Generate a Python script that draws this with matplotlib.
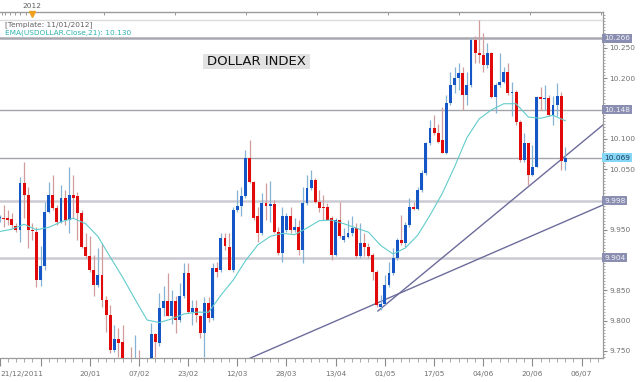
import numpy as np
import matplotlib
matplotlib.use("Agg")
import matplotlib.pyplot as plt
from matplotlib.ticker import FixedLocator, FixedFormatter, MultipleLocator
from matplotlib.transforms import blended_transform_factory
from matplotlib.patches import Rectangle

# ---------------- data ----------------
opens = [
    9.969, 9.970, 9.970, 9.968, 9.956, 9.950, 10.027, 10.007, 9.950, 9.947,
    9.867, 9.890, 9.980, 10.007, 9.986, 9.963, 10.002, 9.966, 10.007, 10.005,
    9.978, 9.922, 9.906, 9.884, 9.859, 9.875, 9.834, 9.809, 9.752, 9.770,
    9.765, 9.730, 9.733, 9.720, 9.735, 9.722, 9.715, 9.730, 9.778, 9.763,
    9.821, 9.833, 9.808, 9.833, 9.801, 9.841, 9.879, 9.815, 9.821, 9.807,
    9.780, 9.829, 9.805, 9.887, 9.884, 9.937, 9.922, 9.884, 9.983, 9.989,
    10.005, 10.068, 10.029, 9.972, 9.945, 9.994, 9.989, 9.993, 9.947, 9.912,
    9.950, 9.972, 9.950, 9.955, 9.917, 9.994, 10.019, 10.032, 9.996, 9.988,
    9.988, 9.970, 9.908, 9.966, 9.933, 9.938, 9.945, 9.953, 9.906, 9.928,
    9.922, 9.908, 9.881, 9.823, 9.828, 9.859, 9.879, 9.904, 9.933, 9.928,
    9.958, 9.988, 9.984, 10.016, 10.044, 10.093, 10.118, 10.110, 10.098, 10.077,
    10.159, 10.189, 10.201, 10.209, 10.172, 10.189, 10.263, 10.242, 10.238, 10.222,
    10.241, 10.169, 10.189, 10.194, 10.211, 10.175, 10.178, 10.128, 10.065, 10.093,
    10.040, 10.054, 10.169, 10.165, 10.167, 10.139, 10.156, 10.171, 10.062,
]
highs = [
    9.974, 9.991, 9.983, 9.978, 9.962, 10.037, 10.062, 10.021, 9.961, 9.955,
    9.923, 9.996, 10.029, 10.040, 9.991, 10.024, 10.016, 10.054, 10.040, 10.013,
    9.983, 9.945, 9.939, 9.908, 9.920, 9.928, 9.840, 9.826, 9.793, 9.788,
    9.793, 9.736, 9.757, 9.776, 9.752, 9.737, 9.734, 9.796, 9.780, 9.845,
    9.857, 9.878, 9.850, 9.840, 9.862, 9.895, 9.895, 9.834, 9.834, 9.809,
    9.839, 9.839, 9.895, 9.897, 9.945, 9.945, 9.945, 9.988, 10.016, 10.021,
    10.081, 10.098, 10.031, 9.988, 10.011, 10.027, 10.031, 9.999, 9.955, 9.988,
    9.978, 9.988, 9.970, 9.966, 10.021, 10.040, 10.049, 10.035, 10.016, 10.007,
    9.994, 9.972, 9.970, 9.996, 9.953, 9.966, 9.972, 9.961, 9.961, 9.945,
    9.928, 9.912, 9.884, 9.842, 9.875, 9.897, 9.920, 9.937, 9.974, 9.963,
    10.002, 9.996, 10.021, 10.049, 10.095, 10.131, 10.139, 10.125, 10.153, 10.172,
    10.211, 10.219, 10.225, 10.219, 10.211, 10.266, 10.269, 10.296, 10.275, 10.258,
    10.244, 10.192, 10.241, 10.219, 10.225, 10.194, 10.181, 10.131, 10.110, 10.093,
    10.090, 10.170, 10.186, 10.189, 10.172, 10.170, 10.193, 10.178, 10.087,
]
lows = [
    9.963, 9.955, 9.958, 9.953, 9.946, 9.930, 9.970, 9.920, 9.933, 9.856,
    9.857, 9.884, 9.978, 9.983, 9.958, 9.961, 9.958, 9.945, 9.970, 9.933,
    9.920, 9.904, 9.881, 9.840, 9.856, 9.823, 9.782, 9.747, 9.749, 9.740,
    9.725, 9.715, 9.712, 9.712, 9.715, 9.708, 9.705, 9.722, 9.740, 9.758,
    9.807, 9.807, 9.795, 9.780, 9.798, 9.838, 9.813, 9.793, 9.798, 9.772,
    9.740, 9.798, 9.801, 9.872, 9.880, 9.917, 9.884, 9.881, 9.980, 9.972,
    10.002, 10.027, 9.966, 9.930, 9.941, 9.966, 9.963, 9.945, 9.908, 9.897,
    9.947, 9.945, 9.947, 9.908, 9.895, 9.991, 10.016, 9.994, 9.980, 9.966,
    9.966, 9.900, 9.906, 9.937, 9.930, 9.937, 9.939, 9.904, 9.904, 9.906,
    9.904, 9.867, 9.823, 9.818, 9.826, 9.856, 9.875, 9.900, 9.925, 9.922,
    9.955, 9.983, 9.983, 10.013, 10.040, 10.090, 10.106, 10.093, 10.077, 10.075,
    10.156, 10.175, 10.181, 10.148, 10.156, 10.186, 10.225, 10.225, 10.211, 10.217,
    10.167, 10.143, 10.186, 10.192, 10.172, 10.137, 10.123, 10.062, 10.062, 10.024,
    10.038, 10.054, 10.148, 10.148, 10.137, 10.123, 10.137, 10.049, 10.049,
]
closes = [
    9.970, 9.968, 9.966, 9.958, 9.950, 10.027, 10.007, 9.950, 9.948, 9.867,
    9.890, 9.980, 10.007, 9.986, 9.963, 10.002, 9.966, 10.007, 10.002, 9.978,
    9.922, 9.906, 9.884, 9.859, 9.875, 9.834, 9.809, 9.752, 9.770, 9.763,
    9.730, 9.722, 9.720, 9.735, 9.722, 9.715, 9.728, 9.778, 9.765, 9.821,
    9.833, 9.808, 9.833, 9.801, 9.841, 9.879, 9.815, 9.821, 9.809, 9.780,
    9.829, 9.805, 9.887, 9.880, 9.937, 9.923, 9.884, 9.983, 9.989, 10.005,
    10.068, 10.029, 9.970, 9.945, 9.994, 9.989, 9.993, 9.947, 9.912, 9.972,
    9.972, 9.950, 9.955, 9.917, 9.994, 10.019, 10.032, 9.996, 9.986, 9.986,
    9.966, 9.908, 9.966, 9.939, 9.939, 9.945, 9.953, 9.906, 9.928, 9.922,
    9.906, 9.881, 9.826, 9.828, 9.859, 9.879, 9.904, 9.933, 9.928, 9.958,
    9.988, 9.984, 10.016, 10.044, 10.093, 10.118, 10.110, 10.095, 10.077, 10.159,
    10.189, 10.201, 10.209, 10.172, 10.189, 10.263, 10.241, 10.238, 10.222, 10.241,
    10.169, 10.189, 10.194, 10.211, 10.175, 10.178, 10.128, 10.065, 10.093, 10.040,
    10.054, 10.169, 10.165, 10.167, 10.139, 10.156, 10.171, 10.064, 10.069,
]

ema_idx = list(range(0, 139, 3))
ema_vals = [
    9.947, 9.951, 9.959, 9.950, 9.954, 9.963, 9.969, 9.960, 9.939, 9.905,
    9.872, 9.836, 9.801, 9.797, 9.803, 9.811, 9.814, 9.814, 9.842, 9.867,
    9.899, 9.925, 9.939, 9.944, 9.942, 9.953, 9.965, 9.966, 9.960, 9.953,
    9.946, 9.924, 9.910, 9.920, 9.941, 9.974, 10.010, 10.054, 10.102, 10.133,
    10.148, 10.158, 10.158, 10.136, 10.134, 10.139, 10.130,
]

xtick_pos = [0.2, 10, 22, 34, 46, 58, 70, 82, 94, 106, 118, 130, 142]
xtick_labels = ["21/12/2011", "", "20/01", "07/02", "23/02", "12/03", "28/03",
                "13/04", "01/05", "17/05", "04/06", "20/06", "06/07"]

ytick_pos = [9.75, 9.80, 9.85, 9.90, 9.95, 10.00, 10.05, 10.10, 10.15, 10.20, 10.25]
ytick_labels = ["9.750", "9.800", "9.850", "", "9.950", "", "10.050", "10.100", "",
                "10.200", "10.250"]

level_vals = [10.266, 10.148, 10.069, 9.998, 9.904]
level_labels = ["10.266", "10.148", "10.069", "9.998", "9.904"]

trend1_x = [92.3, 147.2]
trend1_y = [9.816, 10.123]
trend2_x = [61.1, 147.2]
trend2_y = [9.738, 9.991]

# ---------------- figure ----------------
W, H = 640, 382
fig = plt.figure(figsize=(W / 100, H / 100), dpi=100)
fig.patch.set_facecolor("white")
ax = fig.add_axes([0, 24 / H, 603 / W, 346 / H])
ax.set_xlim(0.12, 147.2)
ax.set_ylim(9.7384, 10.3094)

FS = 5.3
GRAY_TXT = "#707070"

# horizontal levels
lvl_style = {10.266: ("#a8a8b0", 1.8), 10.148: ("#a4a4ac", 1.0), 10.069: ("#a4a4ac", 1.0),
             9.998: ("#cacad2", 1.8), 9.904: ("#cacad2", 1.8)}
for v in level_vals:
    col, lw = lvl_style[v]
    ax.axhline(v, color=col, lw=lw, zorder=1)
ax.axhline(10.297, color="#dcdce0", lw=1.0, zorder=1)

# trend lines
ax.plot(trend1_x, trend1_y, color="#6c6c9c", lw=1.0, zorder=2)
ax.plot(trend2_x, trend2_y, color="#6c6c9c", lw=1.0, zorder=2)

# candles
o = np.array(opens); h = np.array(highs); l = np.array(lows); c = np.array(closes)
x = np.arange(len(o))
up = c >= o
body_col = np.where(up, "#1556c6", "#e00a0a")
wick_col = np.where(up, "#86b2d4", "#d29c9c")
ax.vlines(x, l, h, colors=wick_col, lw=0.9, zorder=3)
bottoms = np.minimum(o, c)
heights = np.maximum(np.abs(c - o), 0.0016)
ax.bar(x, heights, width=0.72, bottom=bottoms, color=body_col, linewidth=0, zorder=4)

# EMA
ax.plot(ema_idx, ema_vals, color="#62cccc", lw=0.8, zorder=5)

# spines
ax.spines["left"].set_visible(False)
for s in ["right", "bottom", "top"]:
    ax.spines[s].set_color("#9a9a9a")
    ax.spines[s].set_linewidth(0.9)

# y axis on the right
ax.yaxis.tick_right()
ax.yaxis.set_major_locator(FixedLocator(ytick_pos))
ax.yaxis.set_major_formatter(FixedFormatter(ytick_labels))
ax.yaxis.set_minor_locator(MultipleLocator(0.005))
ax.tick_params(axis="y", which="major", direction="out", length=3, width=0.8,
               color="#8a8a8a", labelsize=FS, labelcolor=GRAY_TXT, pad=1.5)
ax.tick_params(axis="y", which="minor", direction="out", length=1.6, width=0.6, color="#9a9a9a")

# x axis
ax.xaxis.set_major_locator(FixedLocator(xtick_pos))
ax.xaxis.set_major_formatter(FixedFormatter(xtick_labels))
ax.xaxis.set_minor_locator(MultipleLocator(2))
ax.tick_params(axis="x", which="major", direction="out", length=6, width=0.8,
               color="#8a8a8a", labelsize=FS, labelcolor=GRAY_TXT, pad=3.5)
ax.tick_params(axis="x", which="minor", direction="out", length=3, width=0.6, color="#9a9a9a")
ax.get_xticklabels()[0].set_horizontalalignment("left")

# top overview ruler
sec = ax.secondary_xaxis("top")
sec.set_xticks([0.6, 1.3, 2.6, 3.8, 5.0, 6.5, 25.5, 42.8, 60.1, 77.4, 94.8, 112.1, 129.4, 146.7])
sec.tick_params(direction="in", length=2.5, width=0.7, color="#9a9a9a", labeltop=False)
sec.spines["top"].set_color("#8a8a8a")
fig.text(22 / W, 1 - 6 / H, "2012", fontsize=FS, color="#606060", ha="left", va="center")
fig.lines.append(plt.Line2D([32 / W], [1 - 14 / H], marker="v", markersize=4.5,
                            color="#f0a020", transform=fig.transFigure))

# price labels for levels
tr = blended_transform_factory(ax.transAxes, ax.transData)
for v, lab in zip(level_vals, level_labels):
    if lab == "10.069":
        fc, tc = "#86d6f6", "#1c3c5c"
    else:
        fc, tc = "#8a8eb0", "#f2f2f6"
    ax.text(1.0017, v, lab, transform=tr, ha="left", va="center", fontsize=FS, color=tc,
            clip_on=False, zorder=10,
            bbox=dict(boxstyle="square,pad=0.22", fc=fc, ec="none"))

# legend texts
fig.text(5 / W, 1 - 24.5 / H, "[Template: 11/01/2012]", fontsize=FS, color="#606060",
         ha="left", va="center")
fig.text(5 / W, 1 - 33 / H, "EMA(USDOLLAR.Close,21): 10.130", fontsize=FS, color="#2ab4b0",
         ha="left", va="center")

# title box
fig.add_artist(Rectangle((203 / W, 1 - 69 / H), 107 / W, 15 / H, transform=fig.transFigure,
                         fc="#e2e2e2", ec="none"))
fig.text(256.5 / W, 1 - 61.5 / H, "DOLLAR INDEX", fontsize=9.5, color="#111111",
         ha="center", va="center")

fig.savefig("out.png", dpi=100, facecolor="white")
